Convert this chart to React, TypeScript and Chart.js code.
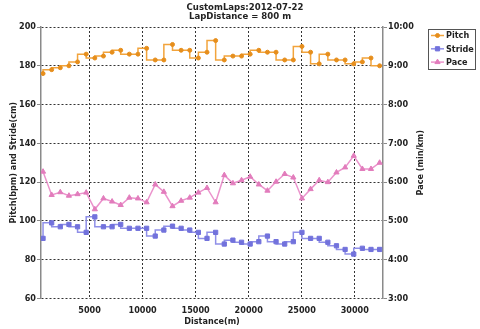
import React, { useEffect, useRef } from 'react';
import { Chart, registerables } from 'chart.js';

Chart.register(...registerables);

const titleLines = ['CustomLaps:2012-07-22', 'LapDistance = 800 m'];
const xTitle = 'Distance(m)';
const yTitle = 'Pitch(bpm) and Stride(cm)';
const y2Title = 'Pace (min/km)';
const seriesNames = ['Pitch', 'Stride', 'Pace'];

const distances = [
  612, 1426, 2239, 3053, 3866, 4680, 5494, 6307, 7121, 7934,
  8748, 9562, 10375, 11189, 12002, 12816, 13630, 14443, 15257, 16070,
  16884, 17698, 18511, 19325, 20138, 20952, 21766, 22579, 23393, 24206,
  25020, 25834, 26647, 27461, 28274, 29088, 29902, 30715, 31529, 32342,
];
const pitch = [
  176, 178, 179, 180, 182, 186, 184, 185, 187, 188,
  186, 186, 189, 183, 183, 191, 188, 188, 184, 187,
  193, 183, 185, 185, 186, 188, 187, 187, 183, 183,
  190, 187, 181, 186, 183, 183, 181, 182, 184, 180,
];
const stride = [
  91.0, 99.0, 97.0, 98.2, 97.0, 94.1, 102.1, 97.0, 97.0, 98.2,
  96.2, 96.2, 96.2, 92.2, 95.3, 97.3, 96.2, 95.3, 94.1, 91.0,
  94.1, 88.1, 90.1, 89.0, 88.1, 89.3, 92.2, 89.3, 88.1, 89.3,
  94.1, 91.0, 91.0, 89.0, 87.2, 85.3, 82.9, 85.9, 85.3, 85.3,
];
// pace in minutes per km
const pace = [
  6.27, 5.67, 5.74, 5.65, 5.69, 5.73, 5.30, 5.58, 5.50, 5.41,
  5.60, 5.58, 5.48, 5.94, 5.75, 5.38, 5.52, 5.60, 5.73, 5.85,
  5.48, 6.18, 5.97, 6.05, 6.14, 5.94, 5.78, 6.01, 6.21, 6.12,
  5.58, 5.82, 6.05, 6.00, 6.25, 6.38, 6.68, 6.34, 6.34, 6.50,
];
const xTicks = [5000, 10000, 15000, 20000, 25000, 30000];

const FONT = '"DejaVu Sans Condensed", "DejaVu Sans", sans-serif';
const TEXT = '#222';
const GRID = '#333';
const AXIS = '#8a8a8a';
const PITCH_LINE = '#f2a43c';
const PITCH_PT = '#e68e1c';
const STRIDE_LINE = '#8f8fe8';
const STRIDE_PT = '#7272dc';
const PACE_LINE = '#eb93cc';
const PACE_PT = '#e27cbc';

function drawMarker(ctx: CanvasRenderingContext2D, style: string, r: number, x: number, y: number) {
  ctx.beginPath();
  if (style === 'circle') {
    ctx.arc(x, y, r, 0, Math.PI * 2);
  } else if (style === 'rect') {
    const s = r * Math.SQRT1_2;
    ctx.rect(x - s, y - s, 2 * s, 2 * s);
  } else {
    ctx.moveTo(x, y - r);
    ctx.lineTo(x + r * 0.866, y + r * 0.5);
    ctx.lineTo(x - r * 0.866, y + r * 0.5);
    ctx.closePath();
  }
  ctx.fill();
  ctx.stroke();
}

const overlay = {
  id: 'overlay',
  afterDraw(chart: any) {
    const ctx = chart.ctx as CanvasRenderingContext2D;
    const area = chart.chartArea;
    ctx.save();
    // title
    ctx.fillStyle = TEXT;
    ctx.font = `bold 9.5px ${FONT}`;
    ctx.textAlign = 'center';
    ctx.textBaseline = 'alphabetic';
    ctx.fillText(titleLines[0], 245, 9.5);
    ctx.fillText(titleLines[1], 240, 19.2);

    // right axis title (reads bottom-to-top)
    ctx.save();
    ctx.translate(421, (area.top + area.bottom) / 2);
    ctx.rotate(-Math.PI / 2);
    ctx.font = `bold 9px ${FONT}`;
    ctx.textAlign = 'center';
    ctx.textBaseline = 'middle';
    ctx.fillText(y2Title, 0, 0);
    ctx.restore();

    // legend
    const bx = 428.5, by = 29.5, bw = 47, bh = 40;
    ctx.strokeStyle = '#555';
    ctx.lineWidth = 1;
    ctx.strokeRect(bx, by, bw, bh);
    const items = [
      { name: seriesNames[0], line: PITCH_LINE, pt: PITCH_PT, style: 'circle', r: 2 },
      { name: seriesNames[1], line: STRIDE_LINE, pt: STRIDE_PT, style: 'rect', r: 3 },
      { name: seriesNames[2], line: PACE_LINE, pt: PACE_PT, style: 'triangle', r: 3 },
    ];
    items.forEach((it, i) => {
      const y = 35.5 + i * 13.3;
      ctx.strokeStyle = it.line;
      ctx.lineWidth = 1.5;
      ctx.beginPath();
      ctx.moveTo(431, y);
      ctx.lineTo(444, y);
      ctx.stroke();
      ctx.fillStyle = it.pt;
      ctx.strokeStyle = it.pt;
      ctx.lineWidth = 1;
      drawMarker(ctx, it.style, it.r, 437.5, y);
      ctx.fillStyle = TEXT;
      ctx.font = `bold 9px ${FONT}`;
      ctx.textAlign = 'left';
      ctx.textBaseline = 'middle';
      ctx.fillText(it.name, 446, y + 0.5);
    });
    ctx.restore();
  },
};

export default function App() {
  const ref = useRef<HTMLCanvasElement | null>(null);

  useEffect(() => {
    document.body.style.margin = '0';
    const canvas = ref.current;
    if (!canvas) return;
    const chart = new Chart(canvas, {
      type: 'line',
      data: {
        datasets: [
          {
            label: seriesNames[0],
            data: distances.map((d, i) => ({ x: d, y: pitch[i] })),
            yAxisID: 'y',
            stepped: 'after',
            borderColor: PITCH_LINE,
            borderWidth: 1.5,
            pointStyle: 'circle',
            pointRadius: 2,
            pointBackgroundColor: PITCH_PT,
            pointBorderColor: PITCH_PT,
            pointBorderWidth: 1,
          },
          {
            label: seriesNames[1],
            data: distances.map((d, i) => ({ x: d, y: stride[i] })),
            yAxisID: 'y',
            stepped: 'after',
            borderColor: STRIDE_LINE,
            borderWidth: 1.5,
            pointStyle: 'rect',
            pointRadius: 3,
            pointBackgroundColor: STRIDE_PT,
            pointBorderColor: STRIDE_PT,
            pointBorderWidth: 1,
          },
          {
            label: seriesNames[2],
            data: distances.map((d, i) => ({ x: d, y: pace[i] })),
            yAxisID: 'y2',
            tension: 0,
            borderColor: PACE_LINE,
            borderWidth: 1.5,
            pointStyle: 'triangle',
            pointRadius: 3,
            pointBackgroundColor: PACE_PT,
            pointBorderColor: PACE_PT,
            pointBorderWidth: 1,
          },
        ],
      },
      options: {
        responsive: false,
        animation: false,
        layout: { padding: { top: 27, right: 57, bottom: 0, left: 0 } },
        plugins: {
          legend: { display: false },
          title: { display: false },
          tooltip: { enabled: false },
        },
        scales: {
          x: {
            type: 'linear',
            min: 420,
            max: 32660,
            afterBuildTicks: (scale: any) => {
              scale.ticks = xTicks.map((v) => ({ value: v }));
            },
            afterFit: (scale: any) => {
              scale.height = 30.5;
            },
            grid: { color: GRID, drawTicks: false, lineWidth: 1 },
            border: { display: false, dash: [2, 2] },
            ticks: {
              color: TEXT,
              font: { family: FONT, size: 9, weight: 'bold' },
              padding: 7,
              maxRotation: 0,
              callback: (v: any) => String(v),
            },
            title: {
              display: true,
              text: xTitle,
              color: TEXT,
              font: { family: FONT, size: 9, weight: 'bold' },
              padding: { top: 0, bottom: 1.5 },
            },
          },
          y: {
            type: 'linear',
            position: 'left',
            min: 60,
            max: 200,
            afterFit: (scale: any) => {
              scale.width = 41;
            },
            grid: { color: GRID, tickColor: AXIS, tickLength: 4, lineWidth: 1 },
            border: { display: true, color: AXIS, width: 1.5, dash: [2, 2] },
            ticks: {
              stepSize: 20,
              color: TEXT,
              font: { family: FONT, size: 9, weight: 'bold' },
              padding: 1,
            },
            title: {
              display: true,
              text: yTitle,
              color: TEXT,
              font: { family: FONT, size: 9, weight: 'bold' },
              padding: { top: 8, bottom: 0 },
            },
          },
          y2: {
            type: 'linear',
            position: 'right',
            min: 3,
            max: 10,
            afterFit: (scale: any) => {
              scale.width = 40;
            },
            grid: { drawOnChartArea: false, tickColor: AXIS, tickLength: 4 },
            border: { display: true, color: AXIS, width: 1.5 },
            ticks: {
              stepSize: 1,
              color: TEXT,
              font: { family: FONT, size: 9, weight: 'bold' },
              padding: 1,
              callback: (v: any) => `${v}:00`,
            },
            title: { display: false },
          },
        },
      },
      plugins: [overlay],
    } as any);
    return () => chart.destroy();
  }, []);

  return <canvas ref={ref} width={480} height={329} style={{ display: 'block' }} />;
}
